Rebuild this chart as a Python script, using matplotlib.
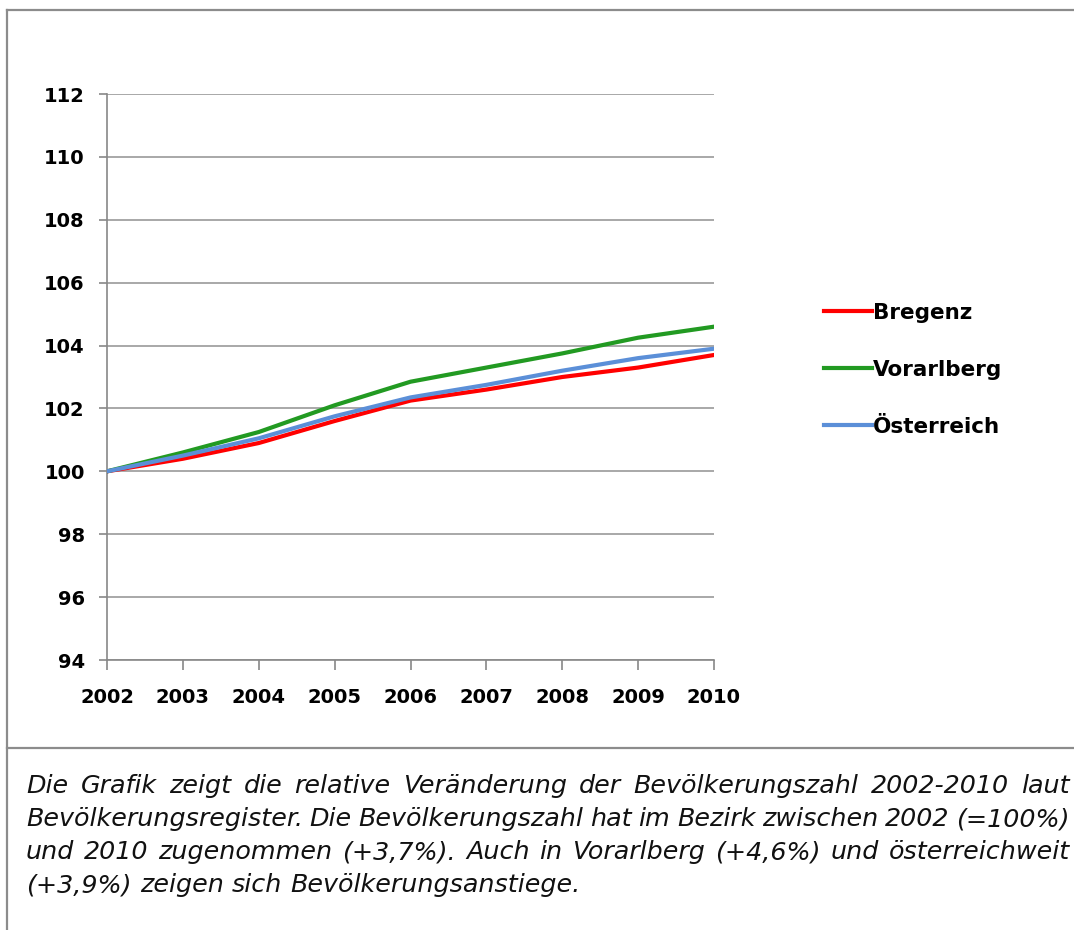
import matplotlib
matplotlib.use('Agg')
import matplotlib.pyplot as plt
from matplotlib.lines import Line2D

# ==========================================
# 数据
# ==========================================
years = [2002, 2003, 2004, 2005, 2006, 2007, 2008, 2009, 2010]
bregenz = [100.0, 100.4, 100.9, 101.6, 102.25, 102.6, 103.0, 103.3, 103.7]
vorarlberg = [100.0, 100.6, 101.25, 102.1, 102.85, 103.3, 103.75, 104.25, 104.6]
oesterreich = [100.0, 100.5, 101.05, 101.75, 102.35, 102.75, 103.2, 103.6, 103.9]
y_ticks = [94, 96, 98, 100, 102, 104, 106, 108, 110, 112]

caption_lines = [
    "Die Grafik zeigt die relative Veränderung der Bevölkerungszahl 2002-2010 laut",
    "Bevölkerungsregister. Die Bevölkerungszahl hat im Bezirk zwischen 2002 (=100%)",
    "und 2010 zugenommen (+3,7%). Auch in Vorarlberg (+4,6%) und österreichweit",
    "(+3,9%) zeigen sich Bevölkerungsanstiege.",
]

W, H = 1074, 930
fig = plt.figure(figsize=(W / 100, H / 100), dpi=100)
fig.patch.set_facecolor('white')

def fx(px):
    return px / W

def fy(py):
    return 1 - py / H

# Rahmen
border = '#8c8c8c'
fig.add_artist(Line2D([fx(7), 1], [fy(10), fy(10)], color=border, lw=1.6))
fig.add_artist(Line2D([fx(7), fx(7)], [fy(10), 0], color=border, lw=1.6))
fig.add_artist(Line2D([fx(7), 1], [fy(748), fy(748)], color=border, lw=1.6))

# ==========================================
# Diagramm
# ==========================================
ax = fig.add_axes([fx(107), fy(660), fx(714) - fx(107), (660 - 94) / H])
ax.plot(years, bregenz, color='#ff0000', lw=3, label='Bregenz', zorder=3)
ax.plot(years, vorarlberg, color='#229a22', lw=3, label='Vorarlberg', zorder=3)
ax.plot(years, oesterreich, color='#5b8fd8', lw=3, label='Österreich', zorder=4)

ax.set_xlim(years[0], years[-1])
ax.set_ylim(y_ticks[0], y_ticks[-1])
ax.set_yticks(y_ticks)
ax.set_xticks(years)
ax.grid(axis='y', color='#999999', lw=1.2)
ax.set_axisbelow(True)
for s in ['top', 'right']:
    ax.spines[s].set_visible(False)
for s in ['left', 'bottom']:
    ax.spines[s].set_color('#888888')
    ax.spines[s].set_linewidth(1.2)
ax.tick_params(axis='y', direction='out', length=6, width=1.2, color='#888888', pad=10,
               labelsize=14)
ax.tick_params(axis='x', direction='out', length=7, width=1.2, color='#888888', pad=13,
               labelsize=14)
for lab in ax.get_xticklabels() + ax.get_yticklabels():
    lab.set_fontweight('bold')

leg = fig.legend(loc='center left', bbox_to_anchor=(fx(805), fy(370)), frameon=False,
                 handlelength=2.2, handletextpad=0.05, labelspacing=1.72,
                 prop={'weight': 'bold', 'size': 15.5})

# ==========================================
# Text (Blocksatz)
# ==========================================
fig.canvas.draw()
renderer = fig.canvas.get_renderer()
x_left, x_right = 26, 1070
y0, dy = 786, 33
fs = 18.3

def word_width(w):
    t = fig.text(0, 0, w, fontsize=fs, style='italic')
    bb = t.get_window_extent(renderer=renderer)
    t.remove()
    return bb.width

space_w = word_width('a b') - word_width('ab')
for i, line in enumerate(caption_lines):
    words = line.split(' ')
    widths = [word_width(w) for w in words]
    ypos = fy(y0 + i * dy)
    if i < len(caption_lines) - 1:
        gap = (x_right - x_left - sum(widths)) / (len(words) - 1)
    else:
        gap = space_w
    x = x_left
    for w, wd in zip(words, widths):
        fig.text(fx(x), ypos, w, fontsize=fs, style='italic', va='center', ha='left',
                 color='#111111')
        x += wd + gap

fig.savefig('out.png', dpi=100, facecolor='white')
